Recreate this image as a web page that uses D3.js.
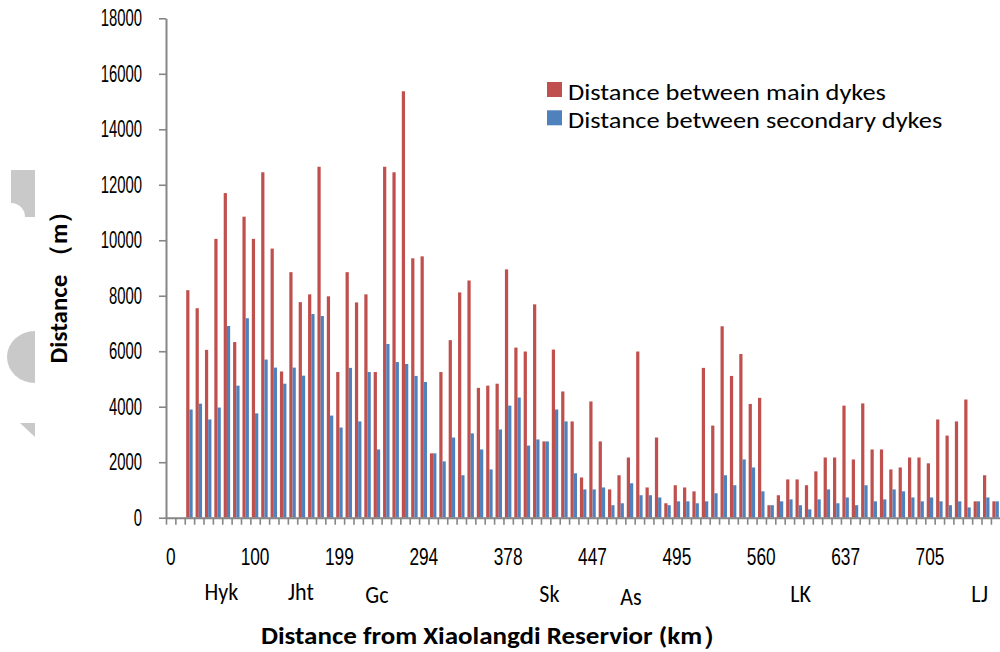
<!DOCTYPE html>
<html>
<head>
<meta charset="utf-8">
<script src="https://cdnjs.cloudflare.com/ajax/libs/d3/7.8.5/d3.min.js"></script>
<style>
  html, body { margin: 0; padding: 0; background: #fff; }
  svg { display: block; font-family: Carlito, Calibri, Lato, "Open Sans", sans-serif; }
  .axis path, .axis line { stroke: #868686; }
</style>
</head>
<body>
<svg id="chart" width="1000" height="652"></svg>
<script>
// river sections counted from the reservoir, first two have no data
const sections = d3.range(89);

const mainDykes = [
  null, null, 8200, 7550, 6050, 10050, 11700, 6330, 10850, 10050,
  12450, 9700, 5270, 8850, 7770, 8050, 12650, 7980, 5250, 8850,
  7760, 8050, 5250, 12650, 12450, 15370, 9350, 9420, 2320, 5250,
  6400, 8120, 8550, 4680, 4760, 4830, 8950, 6130, 5990, 7690,
  2750, 6060, 4550, 3470, 1450, 4190, 2750, 1020, 1530, 2170,
  5990, 1090, 2890, 520, 1170, 1090, 950, 5400, 3320, 6900,
  5110, 5900, 4100, 4320, 450, 810, 1380, 1380, 1170, 1670,
  2170, 2170, 4040, 2100, 4120, 2460, 2460, 1740, 1810, 2170,
  2170, 1960, 3540, 2960, 3470, 4260, 590, 1530, 590
];

const secondaryDykes = [
  null, null, 3900, 4110, 3540, 3970, 6910, 4760, 7190, 3760,
  5700, 5410, 4830, 5410, 5120, 7340, 7270, 3680, 3250, 5400,
  3470, 5250, 2460, 6260, 5610, 5540, 5110, 4890, 2320, 2030,
  2890, 1530, 3040, 2460, 1740, 3180, 4040, 4330, 2600, 2820,
  2750, 3900, 3470, 1600, 1020, 1020, 1090, 450, 520, 1240,
  810, 810, 730, 450, 590, 590, 520, 590, 880, 1530,
  1170, 2100, 1810, 950, 450, 590, 660, 450, 300, 660,
  1020, 520, 730, 450, 1170, 590, 660, 1020, 950, 730,
  590, 730, 590, 450, 590, 370, 590, 730, 590
];

// km labels shown every 9th section
const tickLabels = ['0', '100', '199', '294', '378', '447', '495', '560', '637', '705'];
const tickSections = [0, 9, 18, 27, 36, 45, 54, 63, 72, 81];

// hydrological stations, position in section units
const stations = ['Hyk', 'Jht', 'Gc', 'Sk', 'As', 'LK', 'LJ'];
const stationAt = [5.9, 14.4, 22.5, 40.9, 49.6, 67.7, 86.8];
const stationDrop = [0, 0, 3, 2, 5, 2, 2];

const yTicks = d3.range(0, 18001, 2000);

const seriesNames = ['Distance between main dykes', 'Distance between secondary dykes'];
const colors = ['#C0504D', '#4F81BD'];

const dims = {
  left: 166,
  step: 9.374,
  top: 18.3,
  bottom: 517.7
};
const plotRight = dims.left + sections.length * dims.step;

const svg = d3.select('#chart');
svg.append('rect').attr('width', 1000).attr('height', 652).attr('fill', '#fff');

// faint marks on the left edge of the scanned page
const ghost = svg.append('g').attr('fill', '#c9c9c9');
ghost.append('path').attr('d', 'M11,170 H35 V217 H25 A14,14 0 0 0 11,203 Z');
ghost.append('path').attr('d', 'M35,331 A28,26 0 0 0 35,383 Z');
ghost.append('path').attr('d', 'M20,423 H35 V437 Z');

const x = d3.scaleBand()
  .domain(sections)
  .range([dims.left, plotRight])
  .padding(0);

const xEdge = d3.scaleLinear()
  .domain([0, sections.length])
  .range([dims.left, plotRight]);

const xSub = d3.scaleBand()
  .domain([0, 1])
  .range([0, x.bandwidth()])
  .paddingInner(0)
  .paddingOuter(0.45);

const y = d3.scaleLinear()
  .domain([0, 18000])
  .range([dims.bottom, dims.top]);

const numSize = 24;

// y axis
const ySx = 0.62;
const yAxis = d3.axisLeft(y)
  .tickValues(yTicks)
  .tickSize(7)
  .tickSizeOuter(0)
  .tickFormat(d3.format('d'));

const gy = svg.append('g')
  .attr('class', 'axis axis-y')
  .attr('transform', 'translate(' + dims.left + ',0)')
  .call(yAxis);
gy.select('.domain').attr('stroke-width', 2);
gy.selectAll('.tick line').attr('stroke-width', 1.6);
gy.selectAll('.tick text')
  .attr('font-size', numSize)
  .attr('fill', '#000')
  .attr('x', -24 / ySx)
  .attr('transform', 'scale(' + ySx + ',1)');

// bars
const series = [mainDykes, secondaryDykes];
series.forEach(function(values, s) {
  svg.append('g')
    .selectAll('rect')
    .data(values.map(function(v, i) { return { i: i, v: v }; }).filter(function(d) { return d.v != null; }))
    .enter()
    .append('rect')
    .attr('fill', colors[s])
    .attr('x', function(d) { return x(d.i) + xSub(s); })
    .attr('width', xSub.bandwidth())
    .attr('y', function(d) { return y(d.v); })
    .attr('height', function(d) { return y(0) - y(d.v); });
});

// x axis: ticks at section boundaries
const xAxis = d3.axisBottom(xEdge)
  .tickValues(d3.range(sections.length + 1))
  .tickSize(7)
  .tickSizeOuter(0)
  .tickFormat('');

const gx = svg.append('g')
  .attr('class', 'axis axis-x')
  .attr('transform', 'translate(0,' + dims.bottom + ')')
  .call(xAxis);
gx.select('.domain').attr('stroke-width', 2);
gx.selectAll('.tick line').attr('stroke-width', 1.6);

// km labels
const labelAxis = d3.axisBottom(x)
  .tickValues(tickSections)
  .tickSize(0)
  .tickPadding(30)
  .tickFormat(function(d, i) { return tickLabels[i]; });

const gl = svg.append('g')
  .attr('transform', 'translate(0,' + dims.bottom + ')')
  .call(labelAxis);
gl.select('.domain').remove();
gl.selectAll('.tick text')
  .attr('font-size', numSize)
  .attr('fill', '#000')
  .attr('transform', 'scale(0.72,1)');

// station names
svg.append('g')
  .selectAll('text')
  .data(stations)
  .enter()
  .append('text')
  .attr('transform', function(d, i) {
    return 'translate(' + xEdge(stationAt[i]) + ',' + (600 + stationDrop[i]) + ') scale(0.92,1)';
  })
  .attr('text-anchor', 'middle')
  .attr('font-size', numSize)
  .text(function(d) { return d; });

// axis titles
svg.append('text')
  .attr('transform', 'translate(67,281) rotate(-90)')
  .attr('text-anchor', 'middle')
  .attr('font-size', 25)
  .attr('font-weight', 'bold')
  .text('Distance （m）');

svg.append('text')
  .attr('transform', 'translate(495,644) scale(1.08,1)')
  .attr('text-anchor', 'middle')
  .attr('font-size', 25)
  .attr('font-weight', 'bold')
  .text('Distance from Xiaolangdi  Reservior (km）');

// legend
const legend = svg.append('g')
  .selectAll('g')
  .data(seriesNames)
  .enter()
  .append('g')
  .attr('transform', function(d, i) { return 'translate(547,' + (82 + i * 28.3) + ')'; });
legend.append('rect')
  .attr('width', 15)
  .attr('height', 15)
  .attr('fill', function(d, i) { return colors[i]; });
legend.append('text')
  .attr('transform', 'translate(21,18) scale(1.2,1)')
  .attr('font-size', 22)
  .text(function(d) { return d; });
</script>
</body>
</html>
